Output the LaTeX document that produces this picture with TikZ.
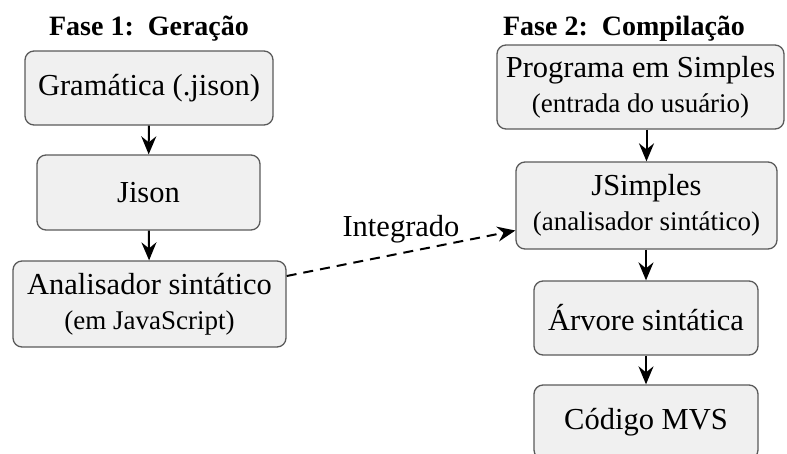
\documentclass[tikz,border=0pt]{standalone}
\usepackage{fontspec}
\setmainfont{Liberation Serif}
\usetikzlibrary{arrows.meta}
\definecolor{boxfill}{HTML}{F0F0F0}
\definecolor{boxline}{HTML}{5A5A5A}
\tikzset{
  box/.style={draw=boxline, fill=boxfill, line width=1.3pt, rounded corners=9pt,
    inner sep=0pt, align=center, font=\fontsize{30.5}{35}\selectfont},
  flow/.style={-{Stealth[length=18pt,width=15pt,inset=6pt]}, line width=2pt, black},
  title/.style={font=\bfseries\fontsize{28}{32}\selectfont, anchor=base, inner sep=0pt}
}
\newcommand{\sublinefont}{\fontsize{27}{35}\selectfont}
\begin{document}
\begin{tikzpicture}[x=1pt,y=-1pt]
\useasboundingbox (0,0) rectangle (787,453);
\clip (0,0) rectangle (787,453);
\node[title] (t1) at (149,35) {Fase 1:\ \ Geração};
\node[title] (t2) at (624,35) {Fase 2:\ \ Compilação};

\node[box, minimum width=248pt, minimum height=74pt] (b1) at (149,88) {Gramática (.jison)};
\node[box, minimum width=223pt, minimum height=75pt] (b2) at (148.5,192.5) {Jison};
\node[box, minimum width=273pt, minimum height=86pt] (b3) at (149.5,304) {Analisador sintático\\{\sublinefont (em JavaScript)}};

\node[box, minimum width=287pt, minimum height=84pt] (b4) at (640.5,87) {Programa em Simples\\{\sublinefont (entrada do usuário)}};
\node[box, minimum width=261pt, minimum height=87pt] (b5) at (646.5,205.5) {JSimples\\{\sublinefont (analisador sintático)}};
\node[box, minimum width=224pt, minimum height=74pt] (b6) at (646,318) {Árvore sintática};
\node[box, minimum width=224pt, minimum height=74pt] (b7) at (646,422) {Código MVS};

\draw[flow] (b1) -- (b2);
\draw[flow] (b2) -- (b3);
\draw[flow] (b4.south -| b5.north) -- (b5.north);
\draw[flow] (b5.south -| b6.north) -- (b6.north);
\draw[flow] (b6) -- (b7);

\draw[flow, dash pattern=on 10pt off 7pt] ([yshift=28pt]b3.east) -- node[above=6pt, font=\fontsize{30.5}{35}\selectfont, pos=0.5] (lab) {Integrado} ([yshift=-25pt]b5.west);
\end{tikzpicture}
\end{document}
